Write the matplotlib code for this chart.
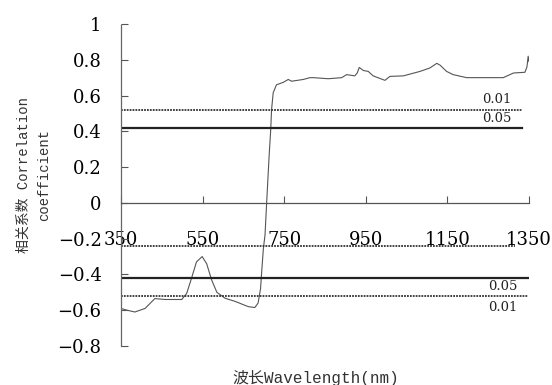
import matplotlib
matplotlib.use('Agg')
import matplotlib.pyplot as plt

# correlation curve
wavelength = [350, 365, 384, 409, 433, 458, 499, 511, 523, 535, 549, 560, 572, 585,
              605, 629, 662, 678, 686, 692, 695, 699, 703, 707, 713, 717, 719, 723,
              731, 748, 760, 768, 797, 813, 822, 858, 891, 903, 923, 929, 934, 944,
              956, 968, 997, 1009, 1042, 1083, 1107, 1124, 1132, 1148, 1164, 1197,
              1238, 1287, 1312, 1340, 1345, 1348, 1350]
corr = [-0.59, -0.60, -0.61, -0.59, -0.535, -0.54, -0.54, -0.506, -0.42, -0.33, -0.30,
        -0.34, -0.43, -0.50, -0.533, -0.55, -0.58, -0.585, -0.56, -0.48, -0.38, -0.255,
        -0.18, 0.0, 0.26, 0.41, 0.52, 0.615, 0.66, 0.674, 0.69, 0.68, 0.69, 0.70, 0.70,
        0.694, 0.70, 0.717, 0.71, 0.726, 0.757, 0.74, 0.735, 0.71, 0.685, 0.707, 0.71,
        0.735, 0.754, 0.78, 0.77, 0.735, 0.717, 0.70, 0.70, 0.70, 0.726, 0.73, 0.76,
        0.82, 0.79]

# significance lines: level, end wavelength, style
sig_levels = [0.52, 0.42, -0.24, -0.42, -0.52]
sig_ends = [1333, 1333, 1316, 1347, 1347]
sig_dotted = [True, False, True, False, True]

sig_labels = ['0.01', '0.05', '0.05', '0.01']
sig_label_x = [1272, 1272, 1286, 1286]
sig_label_y = [0.578, 0.472, -0.467, -0.583]

xticks = [350, 550, 750, 950, 1150, 1350]
yticks = [1, 0.8, 0.6, 0.4, 0.2, 0, -0.2, -0.4, -0.6, -0.8]
ytick_labels = ['1', '0.8', '0.6', '0.4', '0.2', '0',
                '\u22120.2', '\u22120.4', '\u22120.6', '\u22120.8']

fig = plt.figure(figsize=(5.52, 3.85), dpi=100)
ax = fig.add_axes([0.2192, 0.1013, 0.7391, 0.8364])

ax.plot(wavelength, corr, color='#555555', lw=0.8)

for lev, end, dotted in zip(sig_levels, sig_ends, sig_dotted):
    if dotted:
        ax.plot([350, end], [lev, lev], color='#333333', lw=1.3, ls=(0, (1, 0.6)))
    else:
        ax.plot([350, end], [lev, lev], color='#222222', lw=1.6)

for t, x, y in zip(sig_labels, sig_label_x, sig_label_y):
    ax.text(x, y, t, fontsize=9.5, family='DejaVu Serif', ha='center', va='center',
            color='#222222')

ax.set_xlim(350, 1350)
ax.set_ylim(-0.8, 1)

ax.spines['top'].set_visible(False)
ax.spines['right'].set_visible(False)
ax.spines['bottom'].set_position(('data', 0))
ax.spines['bottom'].set_color('#555555')
ax.spines['bottom'].set_linewidth(0.9)
ax.spines['left'].set_color('#666666')
ax.spines['left'].set_linewidth(0.9)
ax.spines['left'].set_linestyle((0, (1, 1)))

ax.set_xticks(xticks)
ax.set_xticklabels([str(v) for v in xticks], family='DejaVu Serif', fontsize=13)
ax.set_yticks(yticks)
ax.set_yticklabels(ytick_labels, family='DejaVu Serif', fontsize=13)
ax.tick_params(axis='x', direction='in', length=5, width=0.8, color='#555555', pad=20)
ax.tick_params(axis='y', direction='in', length=5, width=0.8, color='#555555', pad=14)

fig.text(0.0616, 0.545, '相关系数 Correlation\ncoefficient', rotation=90,
         ha='center', va='center', multialignment='center',
         family=['Liberation Mono', 'Noto Sans CJK SC'], fontsize=10,
         linespacing=1.55, color='#333333')

ax.text(0.478, -0.1, '波长Wavelength(nm)', transform=ax.transAxes, ha='center', va='center',
        family=['Liberation Mono', 'Noto Sans CJK SC'], fontsize=11.5, color='#333333')

fig.savefig('out.png', dpi=100)
